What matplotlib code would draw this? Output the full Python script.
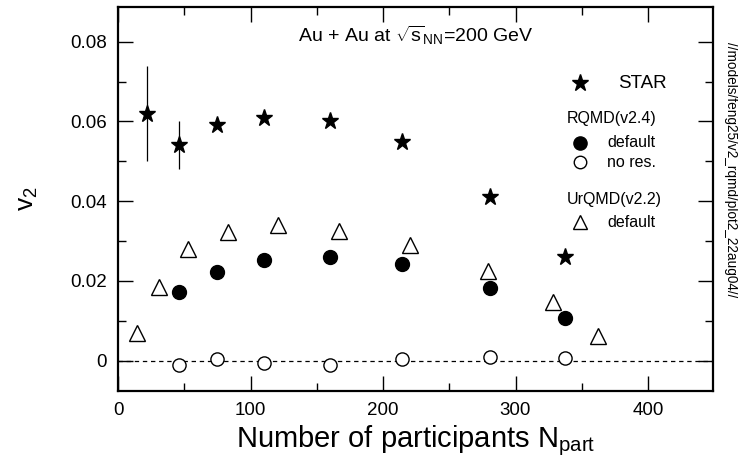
import matplotlib
matplotlib.use("Agg")
import matplotlib.pyplot as plt
from matplotlib.ticker import MultipleLocator

plt.rcParams['font.family'] = ['Liberation Sans', 'DejaVu Sans']
plt.rcParams['mathtext.fontset'] = 'custom'
plt.rcParams['mathtext.rm'] = 'Liberation Sans'
plt.rcParams['mathtext.it'] = 'Liberation Sans:italic'

# STAR data
star_npart = [22, 46, 74.5, 110, 160, 214, 281, 337]
star_v2 = [0.062, 0.054, 0.059, 0.061, 0.060, 0.0548, 0.041, 0.026]
star_err_lo = [0.012, 0.006, 0, 0, 0, 0, 0, 0]
star_err_hi = [0.012, 0.006, 0, 0, 0, 0, 0, 0]

# RQMD(v2.4)
rqmd_npart = [46, 74.5, 110, 160, 214, 281, 337]
rqmd_default = [0.0172, 0.0222, 0.0252, 0.0259, 0.0242, 0.0183, 0.0108]
rqmd_nores = [-0.0011, 0.0004, -0.0005, -0.0012, 0.0004, 0.0009, 0.0007]

# UrQMD(v2.2)
urqmd_npart = [14, 31, 52.5, 83, 121, 167, 220, 279, 328, 362.5]
urqmd_default = [0.0069, 0.0186, 0.0279, 0.0322, 0.0340, 0.0326, 0.0290, 0.0225, 0.0148, 0.0063]

fig = plt.figure(figsize=(7.38, 4.62), dpi=100)
ax = fig.add_axes([0.160, 0.1537, 0.806, 0.831])

ax.axhline(0, color='black', lw=0.9, ls=(0, (3.5, 3)), zorder=1)

ax.errorbar(star_npart, star_v2, yerr=[star_err_lo, star_err_hi], fmt='none',
            ecolor='black', elinewidth=0.9, capsize=0, zorder=2)
ax.plot(star_npart, star_v2, '*', color='black', ms=12.5, zorder=3)
ax.plot(rqmd_npart, rqmd_default, 'o', color='black', ms=10, zorder=3)
ax.plot(rqmd_npart, rqmd_nores, 'o', mfc='white', mec='black', mew=1.0, ms=9.5, zorder=3)
ax.plot(urqmd_npart, urqmd_default, '^', mfc='white', mec='black', mew=1.0, ms=11, zorder=3)

ax.set_xlim(0, 449)
ax.set_ylim(-0.0076, 0.0887)
ax.xaxis.set_major_locator(MultipleLocator(100))
ax.xaxis.set_minor_locator(MultipleLocator(50))
ax.yaxis.set_major_locator(MultipleLocator(0.02))
ax.yaxis.set_minor_locator(MultipleLocator(0.01))
ax.set_yticks([0, 0.02, 0.04, 0.06, 0.08])
ax.set_yticklabels(['0', '0.02', '0.04', '0.06', '0.08'])
ax.tick_params(which='both', direction='in', top=True, right=True, labelsize=13.5, width=1)
ax.tick_params(which='major', length=11, pad=8)
ax.tick_params(which='minor', length=6)
for s in ax.spines.values():
    s.set_linewidth(1.6)

ax.set_xlabel(r'Number of participants N$_{\mathrm{part}}$', fontsize=21, labelpad=3)
ax.set_ylabel(r'v$_2$', fontsize=19, labelpad=22)

ax.text(0.5, 0.925, r'Au + Au at $\sqrt{\mathrm{s}}_{\mathrm{NN}}$=200 GeV',
        transform=ax.transAxes, ha='center', va='center', fontsize=14)

# legend block
lx_m, lx_t = 0.776, 0.822
ax.plot(lx_m, 0.802, '*', color='black', ms=12.5, transform=ax.transAxes, clip_on=False)
ax.text(0.84, 0.802, 'STAR', transform=ax.transAxes, va='center', fontsize=13.5)
ax.text(0.755, 0.711, 'RQMD(v2.4)', transform=ax.transAxes, va='center', fontsize=11.5)
ax.plot(lx_m, 0.646, 'o', color='black', ms=9.5, transform=ax.transAxes, clip_on=False)
ax.text(lx_t, 0.646, 'default', transform=ax.transAxes, va='center', fontsize=11.5)
ax.plot(lx_m, 0.596, 'o', mfc='white', mec='black', ms=9, transform=ax.transAxes, clip_on=False)
ax.text(lx_t, 0.596, 'no res.', transform=ax.transAxes, va='center', fontsize=11.5)
ax.text(0.755, 0.500, 'UrQMD(v2.2)', transform=ax.transAxes, va='center', fontsize=11.5)
ax.plot(lx_m, 0.440, '^', mfc='white', mec='black', ms=10.5, transform=ax.transAxes, clip_on=False)
ax.text(lx_t, 0.440, 'default', transform=ax.transAxes, va='center', fontsize=11.5)

fig.text(0.991, 0.632, '//models/feng25/v2_rqmd/plot2_22aug04//', rotation=-90,
         ha='center', va='center', fontsize=9.8)

fig.savefig('out.png', dpi=100)
